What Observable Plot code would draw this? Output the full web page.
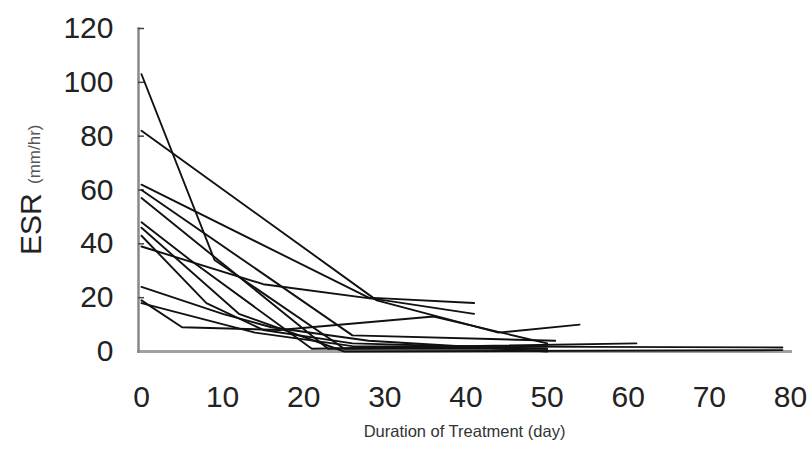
<!DOCTYPE html>
<html>
<head>
<meta charset="utf-8">
<script src="https://cdn.jsdelivr.net/npm/d3@7"></script>
<script src="https://cdn.jsdelivr.net/npm/@observablehq/plot@0.6"></script>
<style>
  body { margin: 0; background: #fff; }
</style>
</head>
<body>
<div id="chart"></div>
<script>
// Each patient's ESR follow-up: days of treatment and ESR (mm/hr)
const patientDays = [
  [0, 9, 25, 50],
  [0, 29, 44, 54],
  [0, 28, 41],
  [0, 15, 30, 41],
  [0, 23, 50],
  [0, 6, 21, 61],
  [0, 12, 25, 79],
  [0, 8, 15, 26, 50],
  [0, 26, 51],
  [0, 10, 16, 28, 50],
  [0, 5, 17, 36, 50],
  [0, 14, 26, 79]
];
const patientESR = [
  [103, 34, 1, 1],
  [82, 19, 7, 10],
  [62, 20, 18],
  [39, 25, 19, 14],
  [57, 1, 2],
  [48, 34, 1, 3],
  [46, 14, 0, 0.5],
  [43, 18, 8, 3, 1],
  [60, 6, 4],
  [24, 14, 9, 4, 0],
  [19, 9, 8, 13, 3],
  [18, 7, 2, 1.5]
];
const xTicks = [0, 10, 20, 30, 40, 50, 60, 70, 80];
const yTicks = [0, 20, 40, 60, 80, 100, 120];
const xTitle = "Duration of Treatment (day)";
const yTitle = "ESR";
const yUnit = "(mm/hr)";

const rows = patientDays.flatMap((ds, i) =>
  ds.map((d, j) => ({ patient: i + 1, day: d, esr: patientESR[i][j] })));

const font = "'Liberation Sans', Arial, sans-serif";

const chart = Plot.plot({
  width: 807,
  height: 453,
  marginLeft: 138,
  marginTop: 28,
  marginBottom: 102,
  marginRight: 17,
  style: { fontFamily: font, background: "#fff", color: "#222", overflow: "visible" },
  x: { domain: [0, 80], range: [141, 790] },
  y: { domain: [0, 120] },
  marks: [
    Plot.frame({ anchor: "bottom", stroke: "#a0a0a0", strokeWidth: 3 }),
    Plot.frame({ anchor: "left", stroke: "#888", strokeWidth: 2.5 }),
    Plot.ruleY(yTicks.filter(t => t > 0), { stroke: "#444", strokeWidth: 1.5, insetRight: 646 }),
    Plot.line(rows, { x: "day", y: "esr", z: "patient", stroke: "#111", strokeWidth: 1.9 }),
    Plot.axisX({ ticks: xTicks, tickSize: 0, tickPadding: 34, fontSize: 30, tickFormat: d => String(d), label: null }),
    Plot.axisY({ ticks: yTicks, tickSize: 0, tickPadding: 25, fontSize: 30, tickFormat: d => String(d), label: null }),
    Plot.text([xTitle], { frameAnchor: "bottom", dy: 85, fontSize: 16.5, fill: "#333" }),
    Plot.text([yTitle], { frameAnchor: "left", rotate: -90, textAnchor: "start", dx: -107, dy: 65, fontSize: 30, fill: "#222" }),
    Plot.text([yUnit], { frameAnchor: "left", rotate: -90, textAnchor: "start", dx: -104, dy: -6, fontSize: 17, fill: "#555" })
  ]
});
document.getElementById("chart").appendChild(chart);
</script>
</body>
</html>
